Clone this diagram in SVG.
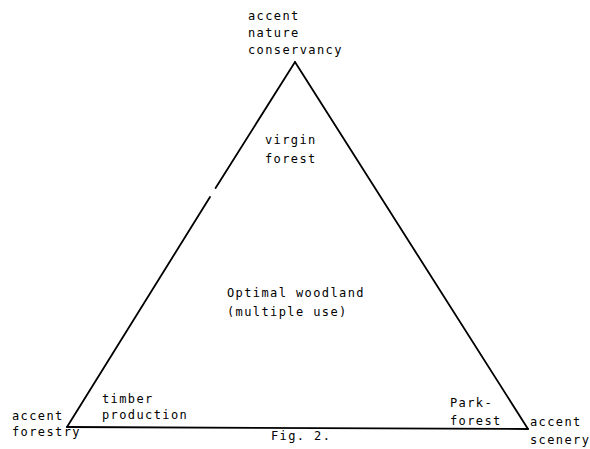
<svg xmlns="http://www.w3.org/2000/svg" width="590" height="449" viewBox="0 0 590 449">
<style>
text{font-family:"DejaVu Sans Mono","Liberation Mono",monospace;font-size:12px;letter-spacing:1.4px;fill:#000}
.e{stroke:#000;stroke-width:1.8;fill:none;stroke-linecap:round}
</style>
<rect width="590" height="449" fill="#fff"/>
<g id="connectors">
<line class="e" x1="295" y1="62" x2="215.6" y2="188"/>
<line class="e" x1="210" y1="197" x2="67" y2="427"/>
<line class="e" x1="295" y1="62" x2="528" y2="429"/>
<line class="e" x1="67" y1="427" x2="528" y2="429"/>
</g>
<g id="top"><text x="248" y="20">accent</text><text x="248" y="37">nature</text><text x="248" y="54">conservancy</text></g>
<g id="virgin"><text x="265" y="144">virgin</text><text x="265" y="163">forest</text></g>
<g id="optimal"><text x="227" y="297">Optimal woodland</text><text x="227" y="316">(multiple use)</text></g>
<g id="forestry"><text x="12" y="420">accent</text><text x="12" y="436">forestry</text></g>
<g id="timber"><text x="102" y="403">timber</text><text x="102" y="419">production</text></g>
<g id="park"><text x="450" y="407">Park-</text><text x="450" y="425">forest</text></g>
<g id="scenery"><text x="530" y="426">accent</text><text x="530" y="444">scenery</text></g>
<g id="caption"><text x="271" y="440">Fig. 2.</text></g>
</svg>
